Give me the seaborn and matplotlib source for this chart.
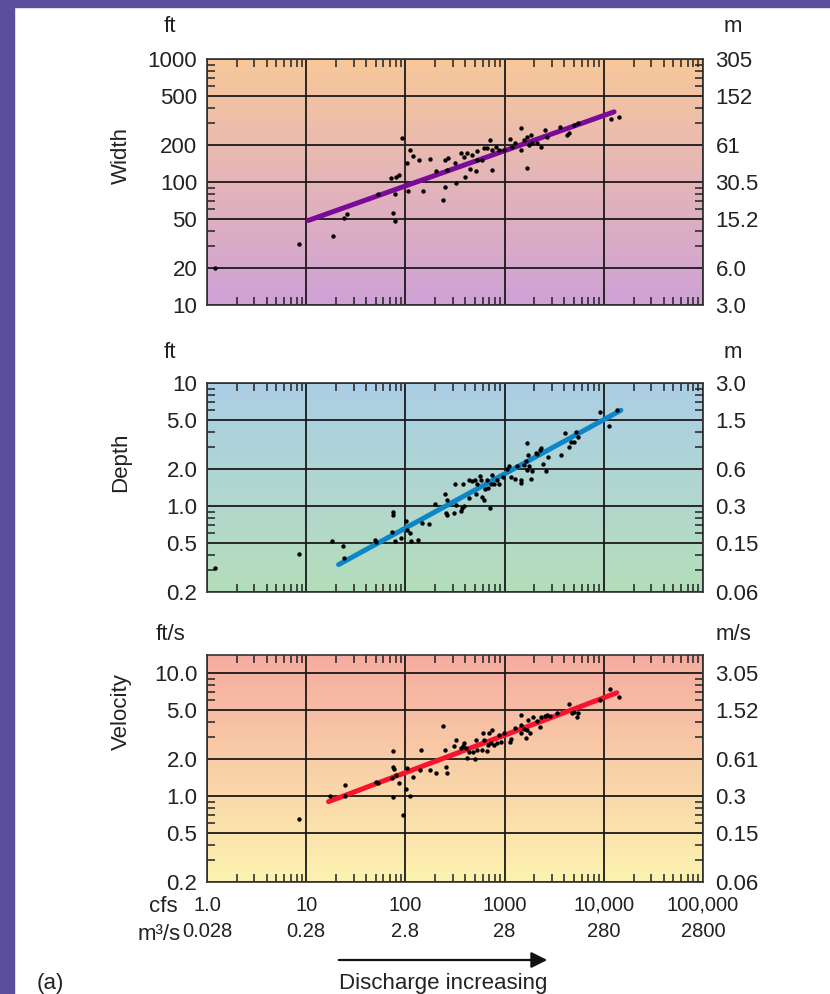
import numpy as np
import matplotlib
matplotlib.use("Agg")
import matplotlib.pyplot as plt
from matplotlib.ticker import LogLocator, NullFormatter
from matplotlib.patches import Rectangle
import seaborn as sns

q_width = [1.2, 8.4, 18.6, 23.8, 25.7, 52.6, 72.2, 78, 81, 86.9, 75, 78, 92.5, 104, 106,
           112, 119, 136, 151, 176, 204, 238, 248, 253, 268, 260, 315, 325, 360, 388,
           395, 420, 443, 471, 517, 521, 529, 594, 618, 668, 711, 750, 750, 811, 876,
           984, 1122, 1194, 1261, 1452, 1452, 1567, 1694, 1694, 1762, 1832, 1902, 2138,
           2312, 2553, 2697, 3622, 4296, 4467, 5012, 5508, 11780, 14290]
width_ft = [20, 31.3, 36.1, 50.8, 54.8, 79.6, 107, 80, 109, 114, 55.5, 48.4, 229, 144, 85,
            182, 163, 151, 85, 153, 123, 71.6, 90.7, 151, 156, 125, 144, 99, 173, 161,
            109, 171, 127, 166, 124, 180, 151, 151, 188, 188, 220, 125, 182, 194, 182,
            182, 222, 194, 206, 273, 182, 220, 129, 234, 200, 241, 206, 206,
            194, 265, 234, 282, 241, 249, 290, 303, 323, 340]

q_depth = [1.2, 8.4, 18.2, 23.4, 24.2, 49.8, 50.9, 73.3, 75, 75, 79.2, 90.4, 102, 104, 111,
           115, 134, 147, 172, 201, 248, 264, 254, 264, 308, 325, 313, 360, 374, 382,
           394, 436, 436, 471, 498, 509, 529, 564, 573, 594, 618, 632, 668, 679, 711,
           722, 750, 780, 843, 876, 970, 1047, 1106, 1167, 1261, 1342, 1452, 1473, 1567,
           1629, 1667, 1694, 1722, 1762, 1832, 1902, 2056, 2138, 2275, 2344, 2460, 2596,
           2761, 3681, 4040, 4467, 4645, 5012, 5212, 5508, 9183, 11320, 13520]
depth_ft = [0.313, 0.407, 0.515, 0.476, 0.376, 0.532, 0.506, 0.61, 0.895, 0.841, 0.523,
            0.549, 0.757, 0.64, 0.601, 0.519, 0.532, 0.734, 0.711, 1.04, 1.26, 1.11, 0.883,
            0.845, 0.883, 1.01, 1.52, 0.912, 0.969, 1.52, 1.0, 1.62, 1.17, 1.59, 1.62, 1.26,
            1.52, 1.77, 1.62, 1.19, 1.12, 1.38, 1.64, 1.41, 0.969, 1.51, 1.8, 1.5, 1.64, 1.5,
            1.72, 2.0, 2.1, 1.72, 1.66, 2.13, 1.54, 1.64, 2.17, 2.31, 3.28, 1.98, 2.61, 2.13,
            1.66, 1.91, 2.69, 2.66, 2.86, 2.95, 2.21, 1.91, 2.5, 2.61, 3.9, 3.01, 3.34, 3.34,
            4.03, 3.66, 5.83, 4.47, 6.0]

q_vel = [8.4, 17.5, 24.4, 24.8, 50.9, 52.9, 73.3, 75, 75, 75, 77.4, 81.1, 86.9, 94, 102,
         104, 110, 119, 140, 145, 176, 202, 240, 248, 254, 264, 308, 325, 365, 382, 394,
         404, 420, 436, 483, 498, 513, 529, 586, 600, 618, 658, 679, 700, 722, 750, 780,
         843, 876, 925, 984, 1132, 1167, 1261, 1452, 1452, 1473, 1567, 1629, 1694, 1722,
         1803, 1950, 2138, 2275, 2344, 2535, 2697, 2871, 3350, 4467, 4830, 5012, 5333,
         5508, 9183, 11580, 14290]
vel_fts = [0.648, 1.0, 1.0, 1.24, 1.3, 1.28, 1.41, 2.31, 1.72, 0.98, 1.66, 1.47, 1.28,
           0.698, 1.13, 1.69, 1.0, 1.43, 1.62, 2.35, 1.62, 1.54, 3.72, 2.35, 1.72, 1.54,
           2.53, 2.86, 2.45, 2.53, 2.72, 2.45, 2.04, 2.26, 2.26, 2.0, 2.86, 2.35, 2.38, 3.24,
           2.86, 2.31, 2.61, 3.24, 2.69, 3.45, 2.61, 2.69, 3.14, 2.77, 3.24, 2.77, 2.9, 3.56,
           4.56, 3.78, 3.28, 3.49, 2.95, 3.45, 4.15, 3.28, 4.37, 4.1, 3.67, 4.37, 4.47, 4.56,
           4.47, 4.7, 5.59, 4.7, 4.84, 4.42, 4.7, 6.0, 7.46, 6.32]

# fitted lines (end points)
width_fit_q = [10.5, 12700]
width_fit = [48.7, 372]
depth_fit_q = [21.2, 14860]
depth_fit = [0.334, 6.0]
vel_fit_q = [16.8, 13520]
vel_fit = [0.9, 6.9]

# axis ticks
x_ticks = [1, 10, 100, 1000, 10000, 100000]
x_cfs = ["1.0", "10", "100", "1000", "10,000", "100,000"]
x_cms = ["0.028", "0.28", "2.8", "28", "280", "2800"]

width_ticks = [10, 20, 50, 100, 200, 500, 1000]
width_ft_labels = ["10", "20", "50", "100", "200", "500", "1000"]
width_m_labels = ["3.0", "6.0", "15.2", "30.5", "61", "152", "305"]

depth_ticks = [0.2, 0.5, 1, 2, 5, 10]
depth_ft_labels = ["0.2", "0.5", "1.0", "2.0", "5.0", "10"]
depth_m_labels = ["0.06", "0.15", "0.3", "0.6", "1.5", "3.0"]

vel_ticks = [0.2, 0.5, 1, 2, 5, 10]
vel_ft_labels = ["0.2", "0.5", "1.0", "2.0", "5.0", "10.0"]
vel_m_labels = ["0.06", "0.15", "0.3", "0.61", "1.52", "3.05"]

sns.set_style("white")
plt.rcParams["font.family"] = ["Liberation Sans", "DejaVu Sans"]
plt.rcParams["text.color"] = "#222222"

W, H = 830, 994
fig = plt.figure(figsize=(W / 100, H / 100), dpi=100)
fig.patch.set_facecolor("white")

# purple frame on the left and top
fig.patches.append(Rectangle((0, 0), 14 / W, 1, transform=fig.transFigure, color="#5b4f9b", zorder=0))
fig.patches.append(Rectangle((0, 1 - 7 / H), 1, 7 / H, transform=fig.transFigure, color="#5b4f9b", zorder=0))

FS = 16
ax_left, ax_right = 207, 703


def make_axes(top, bottom):
    return fig.add_axes([ax_left / W, 1 - bottom / H, (ax_right - ax_left) / W, (bottom - top) / H])


def draw_panel(ax, q, vals, fit_q, fit_vals, color, ylim, ticks, left_labels, right_labels,
               c_top, c_bot, ylabel, ylabel_px, unit_l, unit_r, unit_px):
    # vertical colour gradient
    c_top = np.array(c_top) / 255
    c_bot = np.array(c_bot) / 255
    t = np.linspace(0, 1, 256)[:, None, None]
    grad = c_top * (1 - t) + c_bot * t
    ax.imshow(grad, extent=[0, 1, 0, 1], transform=ax.transAxes, aspect="auto", zorder=0)

    sns.lineplot(x=fit_q, y=fit_vals, ax=ax, color=color, lw=3.6, zorder=3)
    sns.scatterplot(x=q, y=vals, ax=ax, color="black", s=10, linewidth=0, zorder=4)

    ax.set_xscale("log")
    ax.set_yscale("log")
    ax.set_xlim(1, 100000)
    ax.set_ylim(*ylim)

    ax.set_xticks(x_ticks)
    ax.set_yticks(ticks, labels=left_labels)
    ax.xaxis.set_minor_locator(LogLocator(base=10, subs=np.arange(2, 10), numticks=20))
    ax.yaxis.set_minor_locator(LogLocator(base=10, subs=np.arange(2, 10), numticks=20))
    ax.xaxis.set_minor_formatter(NullFormatter())
    ax.yaxis.set_minor_formatter(NullFormatter())
    ax.grid(True, which="major", color="#1a1a1a", lw=1.3)
    ax.set_axisbelow(True)
    ax.tick_params(which="major", length=0, labelsize=FS, labelcolor="#222222", pad=7)
    ax.tick_params(which="minor", direction="in", length=6, width=1.1, color="#222222",
                   top=True, bottom=True, left=True, right=False)
    for s in ax.spines.values():
        s.set_color("#333333")
        s.set_linewidth(1.2)
    ax.set_xlabel("")
    ax.set_ylabel("")

    ax2 = ax.twinx()
    ax2.set_yscale("log")
    ax2.set_ylim(*ylim)
    ax2.set_yticks(ticks, labels=right_labels)
    ax2.yaxis.set_minor_locator(LogLocator(base=10, subs=np.arange(2, 10), numticks=20))
    ax2.yaxis.set_minor_formatter(NullFormatter())
    ax2.tick_params(which="major", length=0, labelsize=FS, labelcolor="#222222", pad=9)
    ax2.tick_params(which="minor", direction="in", length=6, width=1.1, color="#222222")
    for s in ax2.spines.values():
        s.set_visible(False)

    fig.text(121 / W, 1 - ylabel_px / H, ylabel, fontsize=FS, rotation=90, ha="center", va="center")
    fig.text(170 / W, 1 - unit_px / H, unit_l, fontsize=FS, ha="center", va="center")
    fig.text(733 / W, 1 - unit_px / H, unit_r, fontsize=FS, ha="center", va="center")
    return ax


ax1 = make_axes(59, 305)
draw_panel(ax1, q_width, width_ft, width_fit_q, width_fit, "#7a0a98", (10, 1000),
           width_ticks, width_ft_labels, width_m_labels,
           (248, 200, 154), (207, 161, 214), "Width", 155, "ft", "m", 26)
ax1.tick_params(labelbottom=False)

ax2 = make_axes(383, 592)
draw_panel(ax2, q_depth, depth_ft, depth_fit_q, depth_fit, "#0d86c8", (0.2, 10),
           depth_ticks, depth_ft_labels, depth_m_labels,
           (172, 206, 230), (180, 222, 186), "Depth", 462, "ft", "m", 353)
ax2.tick_params(labelbottom=False)

ax3 = make_axes(655, 882)
draw_panel(ax3, q_vel, vel_fts, vel_fit_q, vel_fit, "#f5142f", (0.2, 14),
           vel_ticks, vel_ft_labels, vel_m_labels,
           (245, 172, 160), (252, 243, 176), "Velocity", 712, "ft/s", "m/s", 634)
ax3.set_xticks(x_ticks, labels=[f"{a}\n{b}" for a, b in zip(x_cfs, x_cms)])
ax3.tick_params(axis="x", which="major", pad=10, labelsize=14.5)
for lab in ax3.get_xticklabels():
    lab.set_linespacing(1.5)

fig.text(178 / W, 1 - 907 / H, "cfs", fontsize=FS, ha="right", va="center")
fig.text(181 / W, 1 - 934 / H, "m\u00b3/s", fontsize=FS, ha="right", va="center")

ax3.annotate("", xy=(550 / W, 1 - 960 / H), xycoords="figure fraction",
             xytext=(336 / W, 1 - 960 / H), textcoords="figure fraction",
             arrowprops=dict(arrowstyle="-|>", color="#111111", lw=1.6, mutation_scale=24))
fig.text(443 / W, 1 - 983 / H, "Discharge increasing", fontsize=FS, ha="center", va="center")
fig.text(50 / W, 1 - 983 / H, "(a)", fontsize=FS, ha="center", va="center")

plt.savefig("out.png", dpi=100)
